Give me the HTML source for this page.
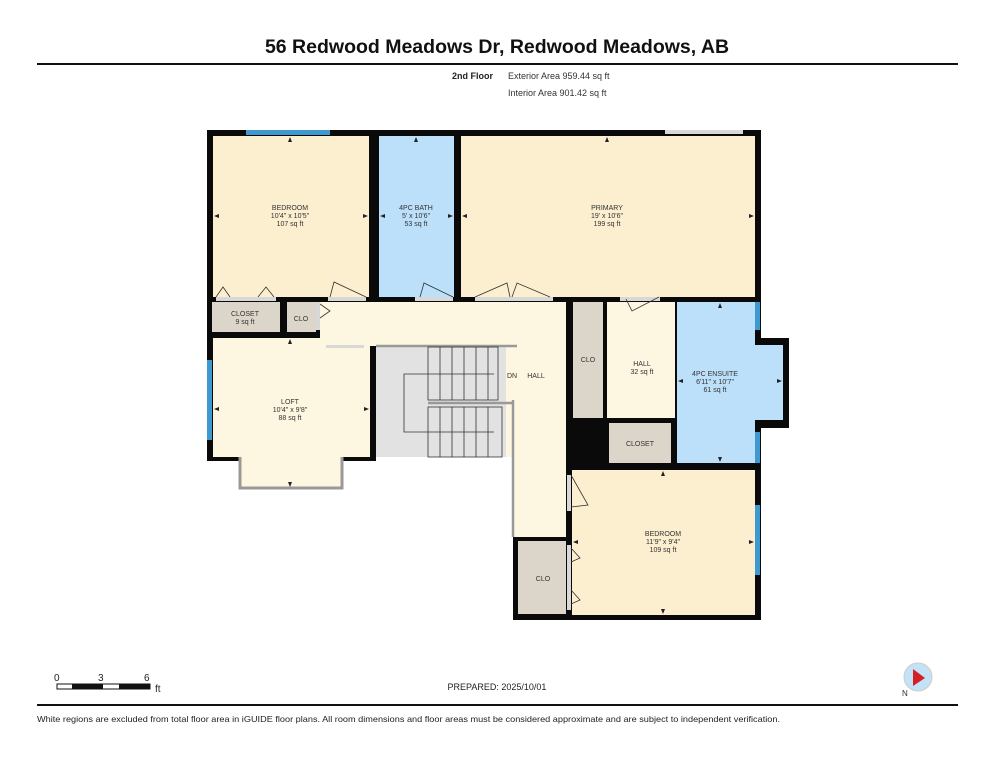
<!DOCTYPE html>
<html><head><meta charset="utf-8"><style>
html,body{margin:0;padding:0;background:#fff;}
svg{display:block;font-family:"Liberation Sans",sans-serif;}
.r{font-size:7px;fill:#333;text-anchor:middle;}
</style></head><body>
<svg width="994" height="768" viewBox="0 0 994 768" xmlns="http://www.w3.org/2000/svg">
<text x="497" y="53" font-size="19.5" font-weight="bold" text-anchor="middle" fill="#111">56 Redwood Meadows Dr, Redwood Meadows, AB</text>
<rect x="37" y="63" width="921" height="2" fill="#111"/>
<text x="452" y="79" font-size="9" font-weight="bold" fill="#222">2nd Floor</text>
<text x="508" y="79" font-size="9" fill="#333">Exterior Area 959.44 sq ft</text>
<text x="508" y="96" font-size="9" fill="#333">Interior Area 901.42 sq ft</text>

<g fill="#0a0a0a">
<rect x="207" y="130" width="554" height="172"/>
<rect x="207" y="297" width="169" height="164"/>
<rect x="566" y="297" width="195" height="323"/>
<rect x="513" y="535" width="59" height="85"/>
<rect x="752" y="338" width="37" height="90"/>
</g>
<rect x="240" y="455" width="102" height="33" fill="#fdf6e0" stroke="#999" stroke-width="3"/>
<rect x="213" y="136" width="156" height="161" fill="#fcefd0"/>
<rect x="379" y="136" width="75" height="161" fill="#bde0fa"/>
<rect x="461" y="136" width="294" height="161" fill="#fcefd0"/>
<rect x="212" y="302" width="68" height="30" fill="#dcd5ca"/>
<rect x="287" y="302" width="29" height="30" fill="#dcd5ca"/>
<rect x="320" y="302" width="246" height="43" fill="#fdf6e0"/>
<rect x="324" y="332" width="52" height="14" fill="#fdf6e0"/>
<rect x="213" y="338" width="157" height="119" fill="#fdf6e0"/>
<rect x="376" y="345" width="130" height="112" fill="#e2e2e2"/>
<rect x="506" y="345" width="60" height="112" fill="#fdf6e0"/>
<rect x="513" y="400" width="53" height="137" fill="#fdf6e0"/>
<rect x="573" y="302" width="30" height="116" fill="#dcd5ca"/>
<rect x="607" y="302" width="68" height="116" fill="#fdf6e0"/>
<rect x="677" y="302" width="78" height="161" fill="#bde0fa"/>
<rect x="752" y="345" width="31" height="75" fill="#bde0fa"/>
<rect x="609" y="423" width="62" height="40" fill="#dcd5ca"/>
<rect x="572" y="470" width="183" height="145" fill="#fcefd0"/>
<rect x="518" y="541" width="48" height="73" fill="#dcd5ca"/>
<g stroke="#999" stroke-width="2.5" fill="none">
<polyline points="376,346 517,346"/>
<polyline points="513,400 513,537"/>
<polyline points="428,403 513,403"/>
</g>
<g stroke="#333" stroke-width="0.8" fill="none">
<rect x="428" y="347" width="70" height="53"/>
<rect x="428" y="407" width="74" height="50"/>
<line x1="440" y1="347" x2="440" y2="400"/><line x1="452" y1="347" x2="452" y2="400"/><line x1="464" y1="347" x2="464" y2="400"/><line x1="476" y1="347" x2="476" y2="400"/><line x1="488" y1="347" x2="488" y2="400"/>
<line x1="440" y1="407" x2="440" y2="457"/><line x1="452" y1="407" x2="452" y2="457"/><line x1="464" y1="407" x2="464" y2="457"/><line x1="476" y1="407" x2="476" y2="457"/><line x1="488" y1="407" x2="488" y2="457"/>
<polyline points="494,374 404,374 404,432 494,432"/>
</g>
<g fill="#3d9ad1">
<rect x="246" y="130" width="84" height="5"/>
<rect x="207" y="360" width="5" height="80"/>
<rect x="755" y="302" width="5" height="28"/>
<rect x="755" y="432" width="5" height="31"/>
<rect x="755" y="505" width="5" height="70"/>
</g>
<g fill="#d8d8d8">
<rect x="216" y="297" width="60" height="4"/><rect x="328" y="297" width="38" height="4"/>
<rect x="415" y="297" width="38" height="4"/><rect x="475" y="297" width="78" height="4"/>
<rect x="620" y="297" width="40" height="4"/><rect x="665" y="130" width="78" height="4"/>
<rect x="316" y="302" width="4" height="28"/><rect x="326" y="345" width="38" height="3"/>
<rect x="567" y="475" width="4" height="36"/><rect x="567" y="545" width="4" height="65"/>
</g>
<g stroke="#333" stroke-width="0.8" fill="none">
<polyline points="216,297 223,287 230,297"/><polyline points="258,297 266,287 274,297"/>
<polyline points="330,297 334,282 366,297"/><polyline points="420,297 424,283 453,297"/>
<polyline points="475,297 507,283 510,297"/><polyline points="512,297 517,283 550,297"/>
<polyline points="626,299 632,311 659,297"/><polyline points="320,304 330,311 320,318"/>
<polyline points="571,475 588,505 571,507"/><polyline points="571,548 580,558 571,562"/><polyline points="571,590 580,600 571,604"/>
</g>
<g fill="#222">
<polygon points="290,137 288,142 292,142"/><polygon points="416,137 414,142 418,142"/><polygon points="607,137 605,142 609,142"/>
<polygon points="214,216 219,214 219,218"/><polygon points="368,216 363,214 363,218"/>
<polygon points="380,216 385,214 385,218"/><polygon points="453,216 448,214 448,218"/>
<polygon points="462,216 467,214 467,218"/><polygon points="754,216 749,214 749,218"/>
<polygon points="290,339 288,344 292,344"/><polygon points="290,487 288,482 292,482"/>
<polygon points="214,409 219,407 219,411"/><polygon points="369,409 364,407 364,411"/>
<polygon points="720,303 718,308 722,308"/><polygon points="720,462 718,457 722,457"/>
<polygon points="678,381 683,379 683,383"/><polygon points="782,381 777,379 777,383"/>
<polygon points="663,471 661,476 665,476"/><polygon points="663,614 661,609 665,609"/>
<polygon points="573,542 578,540 578,544"/><polygon points="754,542 749,540 749,544"/>
</g>
<text class="r" x="290" y="210">BEDROOM</text><text class="r" x="290" y="218">10'4" x 10'5"</text><text class="r" x="290" y="226">107 sq ft</text>
<text class="r" x="416" y="210">4PC BATH</text><text class="r" x="416" y="218">5' x 10'6"</text><text class="r" x="416" y="226">53 sq ft</text>
<text class="r" x="607" y="210">PRIMARY</text><text class="r" x="607" y="218">19' x 10'6"</text><text class="r" x="607" y="226">199 sq ft</text>
<text class="r" x="245" y="316">CLOSET</text><text class="r" x="245" y="324">9 sq ft</text>
<text class="r" x="301" y="321">CLO</text>
<text class="r" x="290" y="404">LOFT</text><text class="r" x="290" y="412">10'4" x 9'8"</text><text class="r" x="290" y="420">88 sq ft</text>
<text class="r" x="512" y="378">DN</text><text class="r" x="536" y="378">HALL</text>
<text class="r" x="588" y="362">CLO</text>
<text class="r" x="642" y="366">HALL</text><text class="r" x="642" y="374">32 sq ft</text>
<text class="r" x="715" y="376">4PC ENSUITE</text><text class="r" x="715" y="384">6'11" x 10'7"</text><text class="r" x="715" y="392">61 sq ft</text>
<text class="r" x="640" y="446">CLOSET</text>
<text class="r" x="663" y="536">BEDROOM</text><text class="r" x="663" y="544">11'9" x 9'4"</text><text class="r" x="663" y="552">109 sq ft</text>
<text class="r" x="543" y="581">CLO</text>
<g font-size="10" fill="#222">
<text x="54" y="681">0</text><text x="98" y="681">3</text><text x="144" y="681">6</text><text x="155" y="692">ft</text>
</g>
<rect x="57" y="684" width="93" height="5" fill="#fff" stroke="#111" stroke-width="1"/>
<rect x="72" y="684" width="31" height="5" fill="#111"/><rect x="119" y="684" width="31" height="5" fill="#111"/>
<text x="497" y="690" font-size="9" text-anchor="middle" fill="#222">PREPARED: 2025/10/01</text>
<circle cx="918" cy="677" r="14" fill="#c4e2f5" stroke="#ccc"/>
<polygon points="913,669 925,678 913,686" fill="#d51f26"/>
<text x="902" y="696" font-size="8" fill="#333">N</text>
<rect x="37" y="704" width="921" height="2" fill="#111"/>
<text x="37" y="722" font-size="8.3" fill="#222" textLength="743" lengthAdjust="spacingAndGlyphs">White regions are excluded from total floor area in iGUIDE floor plans. All room dimensions and floor areas must be considered approximate and are subject to independent verification.</text>
</svg>
</body></html>
